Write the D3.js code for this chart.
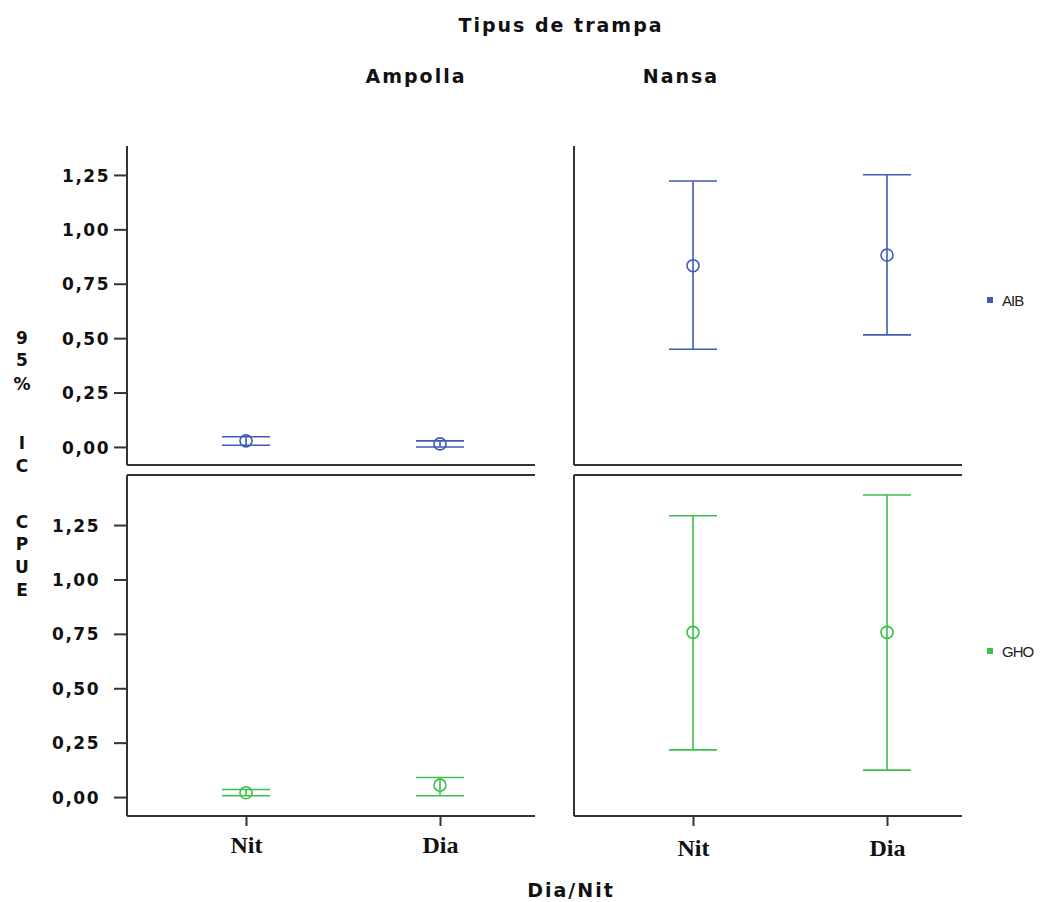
<!DOCTYPE html>
<html>
<head>
<meta charset="utf-8">
<script src="https://cdn.jsdelivr.net/npm/d3@7"></script>
<style>
  body { margin: 0; background: #fff; }
  svg { display: block; }
</style>
</head>
<body>
<div id="chart"></div>
<script>
// data
var trapTypes = ["Ampolla", "Nansa"];
var periods = ["Nit", "Dia"];
var species = ["AIB", "GHO"];
var yTicks = [0, 0.25, 0.5, 0.75, 1.0, 1.25];

// order: Ampolla Nit, Ampolla Dia, Nansa Nit, Nansa Dia
var aibMean = [0.028, 0.014, 0.833, 0.882];
var aibLow  = [0.008, 0.000, 0.449, 0.515];
var aibHigh = [0.047, 0.028, 1.222, 1.251];
var ghoMean = [0.020, 0.055, 0.757, 0.757];
var ghoLow  = [0.006, 0.006, 0.217, 0.124];
var ghoHigh = [0.035, 0.090, 1.293, 1.388];

var colors = { AIB: "#3f5bb6", GHO: "#3cbf4a" };

var W = 1047, H = 902;
var svg = d3.select("#chart").append("svg")
    .attr("width", W)
    .attr("height", H);

var colX = [127, 574];
var panelW = [408, 388];
var rows = [
  { sp: "AIB", top: 146, bottom: 465, domain: [-0.083, 1.383], frameTop: false,
    legendY: 300, mean: aibMean, low: aibLow, high: aibHigh },
  { sp: "GHO", top: 475, bottom: 816, domain: [-0.087, 1.48], frameTop: true,
    legendY: 651, mean: ghoMean, low: ghoLow, high: ghoHigh }
];

var x = d3.scalePoint().domain(periods).range([119, 313]);
var fmt = function(d) { return d3.format(".2f")(d).replace(".", ","); };
var axisColor = "#333";
var boldSans = "DejaVu Sans, Verdana, sans-serif";

rows.forEach(function(r, ri) {
  var y = d3.scaleLinear().domain(r.domain).range([r.bottom, r.top]);

  trapTypes.forEach(function(t, ci) {
    var g = svg.append("g").attr("transform", "translate(" + colX[ci] + ",0)");
    var w = panelW[ci];

    // frame
    g.append("line").attr("x1", 0).attr("x2", 0)
      .attr("y1", r.top).attr("y2", r.bottom)
      .attr("stroke", axisColor).attr("stroke-width", 2);
    g.append("line").attr("x1", 0).attr("x2", w)
      .attr("y1", r.bottom).attr("y2", r.bottom)
      .attr("stroke", axisColor).attr("stroke-width", 2);
    if (r.frameTop) {
      g.append("line").attr("x1", 0).attr("x2", w)
        .attr("y1", r.top).attr("y2", r.top)
        .attr("stroke", axisColor).attr("stroke-width", 2);
    }

    // y axis on the left column only
    if (ci == 0) {
      var ax = g.append("g")
        .call(d3.axisLeft(y).tickValues(yTicks).tickFormat(fmt).tickSize(13).tickSizeOuter(0));
      ax.select(".domain").remove();
      ax.selectAll(".tick line").attr("stroke", axisColor).attr("stroke-width", 2);
      ax.selectAll(".tick text")
        .attr("x", ri == 0 ? -17 : -27)
        .attr("dy", "0.36em")
        .attr("font-family", boldSans)
        .attr("font-weight", "bold")
        .attr("font-size", 17)
        .attr("letter-spacing", 1.5)
        .attr("fill", "#111");
    }

    // x axis on the bottom row only
    if (ri == 1) {
      var xa = g.append("g").attr("transform", "translate(0," + r.bottom + ")")
        .call(d3.axisBottom(x).tickSize(10).tickSizeOuter(0));
      xa.select(".domain").remove();
      xa.selectAll(".tick line").attr("stroke", axisColor).attr("stroke-width", 2);
      xa.selectAll(".tick text")
        .attr("dy", 0)
        .attr("y", ci == 0 ? 37 : 40)
        .attr("font-family", "Liberation Serif, Times New Roman, serif")
        .attr("font-weight", "bold")
        .attr("font-size", 24)
        .attr("fill", "#111");
    }

    // error bars
    var pts = periods.map(function(p, pi) {
      var k = ci * 2 + pi;
      return { p: p, mean: r.mean[k], low: r.low[k], high: r.high[k] };
    });
    var col = colors[r.sp];
    var eb = g.selectAll(".eb").data(pts).enter().append("g")
      .attr("transform", function(d) { return "translate(" + x(d.p) + ",0)"; });
    eb.append("line").attr("x1", 0).attr("x2", 0)
      .attr("y1", function(d) { return y(d.low); })
      .attr("y2", function(d) { return y(d.high); })
      .attr("stroke", col).attr("stroke-width", 1.6);
    eb.append("line").attr("x1", -24).attr("x2", 24)
      .attr("y1", function(d) { return y(d.high); })
      .attr("y2", function(d) { return y(d.high); })
      .attr("stroke", col).attr("stroke-width", 1.6);
    eb.append("line").attr("x1", -24).attr("x2", 24)
      .attr("y1", function(d) { return y(d.low); })
      .attr("y2", function(d) { return y(d.low); })
      .attr("stroke", col).attr("stroke-width", 1.6);
    eb.append("circle")
      .attr("cy", function(d) { return y(d.mean); })
      .attr("r", 6)
      .attr("fill", "none")
      .attr("stroke", col).attr("stroke-width", 1.6);
  });

  // legend
  var ly = r.legendY;
  svg.append("rect").attr("x", 987).attr("y", ly - 3)
    .attr("width", 6).attr("height", 6).attr("fill", colors[r.sp]);
  svg.append("text").attr("x", 1002).attr("y", ly + 6)
    .attr("font-family", "Liberation Sans, Arial, sans-serif")
    .attr("font-size", 15)
    .attr("letter-spacing", -1)
    .attr("fill", "#222")
    .text(r.sp);
});

// titles
svg.append("text").attr("x", 561).attr("y", 32)
  .attr("text-anchor", "middle").attr("font-family", boldSans)
  .attr("font-weight", "bold").attr("font-size", 19)
  .attr("letter-spacing", 2).attr("fill", "#111")
  .text("Tipus de trampa");
var headX = [416, 681];
trapTypes.forEach(function(t, i) {
  svg.append("text").attr("x", headX[i]).attr("y", 83)
    .attr("text-anchor", "middle").attr("font-family", boldSans)
    .attr("font-weight", "bold").attr("font-size", 19)
    .attr("letter-spacing", 2).attr("fill", "#111")
    .text(t);
});
svg.append("text").attr("x", 571).attr("y", 897)
  .attr("text-anchor", "middle").attr("font-family", boldSans)
  .attr("font-weight", "bold").attr("font-size", 19)
  .attr("letter-spacing", 2).attr("fill", "#111")
  .text("Dia/Nit");

// stacked y label
var yLabelChars = ["9", "5", "%", "I", "C", "C", "P", "U", "E"];
var yLabelPos = [344, 366, 390, 449, 472, 528, 550, 573, 596];
var yl = svg.append("text")
  .attr("font-family", boldSans).attr("font-weight", "bold")
  .attr("font-size", 17).attr("fill", "#111");
yLabelChars.forEach(function(c, i) {
  yl.append("tspan").attr("x", 22).attr("y", yLabelPos[i])
    .attr("text-anchor", "middle").text(c);
});
</script>
</body>
</html>
